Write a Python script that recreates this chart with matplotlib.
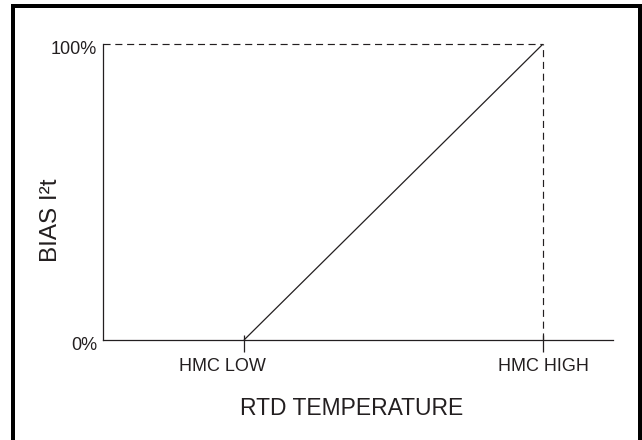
import matplotlib
matplotlib.use("Agg")
import matplotlib.pyplot as plt
from matplotlib.patches import Rectangle
from matplotlib.transforms import ScaledTranslation

# Chart data
temp_labels = ["HMC LOW", "HMC HIGH"]
temp_pos = [1, 2]
bias_pct = [0, 100]
y_tick_vals = [0, 100]
y_tick_labels = ["0%", "100%"]

INK = "#231f20"
W, H = 642, 440

plt.rcParams["font.family"] = ["Liberation Sans", "DejaVu Sans"]

fig = plt.figure(figsize=(W / 100, H / 100), dpi=100)

# axes placed in pixel terms: y-axis at x=102.5, x-axis at y=340, top at 44
x0, x1, y0, y1 = 102.5, 613, 340, 44
ax = fig.add_axes([x0 / W, 1 - y0 / H, (x1 - x0) / W, (y0 - y1) / H])
ax.patch.set_alpha(0)

px_per_unit = 543 - 244
ax.set_xlim(temp_pos[0] - (244 - x0) / px_per_unit, temp_pos[1] + (x1 - 543) / px_per_unit)
ax.set_ylim(0, 100)

# the bias ramp
ax.plot(temp_pos, bias_pct, color=INK, lw=0.9, solid_capstyle="butt")

# dashed guides to the 100% corner
dash = (0, (6, 4))
ax.plot([ax.get_xlim()[0], temp_pos[1]], [bias_pct[1], bias_pct[1]], color=INK, lw=0.85,
        linestyle=dash, clip_on=False)
ax.plot([temp_pos[1], temp_pos[1]], [bias_pct[0], bias_pct[1]], color=INK, lw=0.85,
        linestyle=dash, clip_on=False)

for side in ["top", "right"]:
    ax.spines[side].set_visible(False)
for side in ["left", "bottom"]:
    ax.spines[side].set_color(INK)
    ax.spines[side].set_linewidth(0.9)

ax.set_xticks(temp_pos, temp_labels)
ax.tick_params(axis="x", direction="out", length=12 * 0.72, width=0.9, color=INK,
               labelsize=13, labelcolor=INK, pad=4)
# small stub of each tick above the axis
ax.vlines(temp_pos, 0, 5 / (y0 - y1), transform=ax.get_xaxis_transform(), color=INK, lw=0.9)

ax.set_yticks(y_tick_vals, y_tick_labels)
ax.tick_params(axis="y", length=0, labelsize=13, labelcolor=INK, pad=4)

# nudge labels to where the original drawing has them
px = 1 / 100
low_label = ax.get_xticklabels()[0]
low_label.set_transform(low_label.get_transform() + ScaledTranslation(-22 * px, 0, fig.dpi_scale_trans))
for lab in ax.get_yticklabels():
    lab.set_transform(lab.get_transform() + ScaledTranslation(0, -3.5 * px, fig.dpi_scale_trans))

fig.text(351.5 / W, 1 - 408 / H, "RTD TEMPERATURE", ha="center", va="center",
         fontsize=16.5, color=INK)
fig.text(51 / W, 1 - 220 / H, "BIAS I²t", ha="center", va="center", rotation=90,
         fontsize=17.5, color=INK)

# frame around the whole figure (cut off at the right and bottom)
fig.add_artist(Rectangle((13 / W, -0.05), (640 - 13) / W, 1.05 - 6 / H,
                         transform=fig.transFigure, fill=False, edgecolor="black",
                         linewidth=4 * 0.72, clip_on=False))

fig.savefig("out.png", dpi=100)
